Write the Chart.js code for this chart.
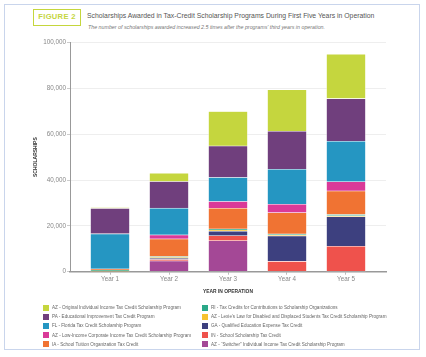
<!DOCTYPE html>
<html>
<head>
<meta charset="utf-8">
<script src="https://cdn.jsdelivr.net/npm/chart.js@4.4.1/dist/chart.umd.min.js"></script>
<style>
  html, body { margin: 0; padding: 0; background: #fff; }
  body { width: 426px; height: 357px; position: relative; overflow: hidden; font-family: "Liberation Sans", Arial, sans-serif; }
  #frame { position: absolute; left: 4px; top: 4px; width: 416px; height: 346px; border: 1.5px solid #c9d5ec; box-sizing: border-box; }
  #fig { position: absolute; left: 33px; top: 9px; width: 48px; height: 17px; border: 1.5px solid #c5d63d; box-sizing: border-box;
         color: #c5d63d; font-weight: bold; font-size: 7.6px; line-height: 14px; text-align: center; letter-spacing: 0.3px; }
  #title { position: absolute; left: 87px; top: 12px; font-size: 6.85px; color: #555; white-space: nowrap; }
  #subtitle { position: absolute; left: 88px; top: 23.5px; font-size: 5.3px; color: #777; font-style: italic; white-space: nowrap; }
  #chartWrap { position: absolute; left: 0; top: 0; width: 426px; height: 357px; }
  #xtitle { position: absolute; left: 178px; width: 100px; top: 288.5px; text-align: center; font-size: 4.9px; font-weight: bold; color: #333; white-space: nowrap; }
  #legend { position: absolute; left: 43px; top: 303px; display: grid; grid-template-rows: repeat(5, 9.2px); grid-auto-flow: column; grid-template-columns: 159px 220px; }
  .li { display: flex; align-items: center; font-size: 4.6px; color: #666; white-space: nowrap; }
  .sw { width: 6px; height: 6px; margin-right: 3px; flex: none; }
</style>
</head>
<body>
<div id="frame"></div>
<div id="fig">FIGURE 2</div>
<div id="title">Scholarships Awarded in Tax-Credit Scholarship Programs During First Five Years in Operation</div>
<div id="subtitle">The number of scholarships awarded increased 2.5 times after the programs’ third years in operation.</div>
<div id="chartWrap"><canvas id="c" width="426" height="357"></canvas></div>
<div id="xtitle">YEAR IN OPERATION</div>
<div id="legend"></div>
<script>
// ---- data ----
const categories = ['Year 1', 'Year 2', 'Year 3', 'Year 4', 'Year 5'];
const yTicks = [0, 20000, 40000, 60000, 80000, 100000];

const azSwitcher  = [0, 4700, 13500, 0, 0];
const inSchool    = [0, 600, 2200, 4500, 11100];
const gaQualified = [0, 600, 2000, 11100, 12900];
const azLexie     = [300, 300, 400, 400, 400];
const riTaxCredit = [300, 400, 500, 460, 500];
const iaTuition   = [600, 7700, 9100, 9300, 10300];
const azLowIncome = [0, 1750, 2900, 3660, 4060];
const flFlorida   = [15300, 11660, 10500, 15270, 17640];
const paEducation = [11100, 11600, 13700, 16600, 18620];
const azOriginal  = [400, 3700, 15100, 18050, 19370];

const seriesNames = [
  'AZ - “Switcher” Individual Income Tax Credit Scholarship Program',
  'IN - School Scholarship Tax Credit',
  'GA - Qualified Education Expense Tax Credit',
  'AZ - Lexie’s Law for Disabled and Displaced Students Tax Credit Scholarship Program',
  'RI - Tax Credits for Contributions to Scholarship Organizations',
  'IA - School Tuition Organization Tax Credit',
  'AZ - Low-Income Corporate Income Tax Credit Scholarship Program',
  'FL - Florida Tax Credit Scholarship Program',
  'PA - Educational Improvement Tax Credit Program',
  'AZ - Original Individual Income Tax Credit Scholarship Program'
];
const seriesValues = [azSwitcher, inSchool, gaQualified, azLexie, riTaxCredit, iaTuition, azLowIncome, flFlorida, paEducation, azOriginal];

// ---- styles ----
const seriesColors = ['#a44896', '#ef524c', '#3d407f', '#f7c22f', '#2aa888', '#f07333', '#da3a98', '#2596c2', '#703f7d', '#c5d63e'];

const datasets = seriesValues.map((vals, k) => ({
  label: seriesNames[k],
  data: vals.map((v, i) => ({ x: i + 1, y: v })),
  backgroundColor: seriesColors[k],
  borderColor: 'rgba(255,255,255,0.55)',
  borderWidth: 0.6,
  borderSkipped: false,
  barThickness: 39
}));

// HTML legend (top of stack first, two columns)
const legendEl = document.getElementById('legend');
for (let k = seriesNames.length - 1; k >= 0; k--) {
  const d = document.createElement('div');
  d.className = 'li';
  d.innerHTML = '<span class="sw" style="background:' + seriesColors[k] + '"></span>';
  d.appendChild(document.createTextNode(seriesNames[k]));
  legendEl.appendChild(d);
}

const tickFont = { family: '"Liberation Sans", Arial, sans-serif', size: 6.3 };

new Chart(document.getElementById('c'), {
  type: 'bar',
  data: { datasets },
  options: {
    responsive: false,
    animation: false,
    layout: { padding: { left: 33, right: 40, top: 42.5, bottom: 0 } },
    plugins: { legend: { display: false }, tooltip: { enabled: false } },
    scales: {
      x: {
        type: 'linear',
        stacked: true,
        offset: false,
        min: 0.322,
        max: 5.678,
        afterBuildTicks: (s) => { s.ticks = categories.map((c, i) => ({ value: i + 1 })); },
        afterFit: (s) => { s.height = 357 - 271.7; },
        ticks: {
          callback: (v) => categories[Math.round(v) - 1] || '',
          color: '#888', font: tickFont, padding: 1, maxRotation: 0, autoSkip: false
        },
        grid: { drawOnChartArea: false, tickLength: 3, color: '#bbb', offset: false },
        border: { color: '#999', width: 1.5 }
      },
      y: {
        stacked: true,
        min: 0,
        max: 100000,
        afterBuildTicks: (s) => { s.ticks = yTicks.map(v => ({ value: v })); },
        afterFit: (s) => { s.width = 37; },
        ticks: {
          callback: (v) => v.toLocaleString('en-US'),
          color: '#888', font: tickFont, padding: 1
        },
        grid: { color: '#eeeeee', lineWidth: 1, tickLength: 3, tickColor: '#ccc' },
        border: { color: '#999', width: 1 },
        title: {
          display: true, text: 'SCHOLARSHIPS', color: '#333', padding: 0,
          font: { family: '"Liberation Sans", Arial, sans-serif', size: 5, weight: 'bold' }
        }
      }
    }
  }
});
</script>
</body>
</html>
